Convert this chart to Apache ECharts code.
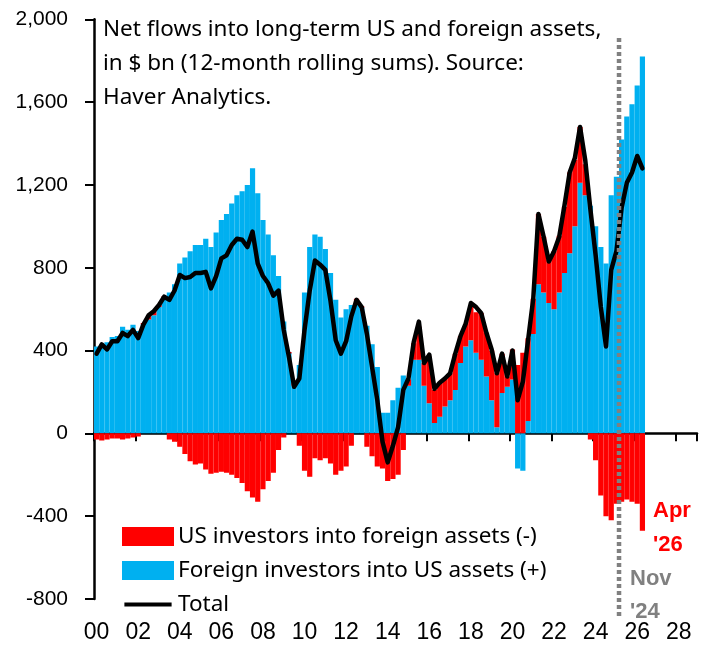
<!DOCTYPE html>
<html>
<head>
<meta charset="utf-8">
<title>Net flows into long-term US and foreign assets</title>
<script src="https://cdn.jsdelivr.net/npm/echarts@6/dist/echarts.min.js"></script>
<style>
    html, body { margin: 0; padding: 0; background: #fff; }
    #m1 { width: 712px; height: 650px; }
</style>
</head>
<body>
<div id="m1"></div>
<script>
    // quarterly 12-month rolling sums, $ bn, 2000Q1 .. 2026Q2
    var startYear = 2000, endYear = 2028;
    var tickLabels = ['00', '02', '04', '06', '08', '10', '12', '14', '16', '18', '20', '22', '24', '26', '28'];

    var foreign = [
        420, 430, 440, 465,   470, 515, 500, 525,   495, 530, 550, 570,   610, 660, 680, 720,
        820, 850, 880, 910,   910, 940, 900, 970,   1030, 1060, 1110, 1150,   1170, 1200, 1280, 1160,
        1030, 960, 860, 760,   540, 390, 230, 330,   680, 900, 960, 950,   890, 775, 645, 560,
        600, 620, 630, 610,   520, 430, 320, 100,   100, 160, 220, 280,   230, 355, 355, 230,
        145, 50, 80, 130,   160, 210, 340, 420,   450, 390, 355, 275,   160, 30, 195, 225,
        260, -170, -180, 60,   480, 720, 680, 630,   600, 680, 775, 870,   1000, 1210, 1150, 1100,
        1000, 900, 820, 1150,   1240, 1420, 1530, 1590,   1680, 1820
    ];
    var usInv = [
        -30, -35, -30, -25,   -25, -30, -25, -20,   -15, 0, 20, 20,   10, 0, -30, -40,
        -65, -100, -135, -150,   -145, -175, -195, -190,   -185, -190, -200, -215,   -240, -280, -310, -330,
        -270, -230, -190, -80,   -20, 0, 15, -60,   -180, -210, -120, -130,   -120, -145, -200, -180,
        -160, -60, 20, 0,   -65, -110, -160, -170,   -230, -220, -200, -80,   30, 80, 160, 110,
        225, 160, 160, 135,   130, 175, 130, 110,   160, 195, 225, 210,   240, 260, 190, 50,
        145, 330, 390, 400,   170, 340, 270, 210,   280, 275, 320, 390,   320, 270, 150, -30,
        -130, -300, -400, -420,   -340, -330, -320, -330,   -340, -470
    ];
    var total = [
        385, 430, 405, 445,   445, 485, 470, 500,   460, 525, 570, 590,   620, 660, 645, 690,
        765, 750, 755, 775,   775, 780, 700, 760,   845, 860, 910, 940,   935, 900, 975, 820,
        760, 725, 665, 690,   500, 370, 225, 265,   500, 690, 835, 815,   790, 640, 450, 385,
        445, 565, 645, 610,   480, 320, 160, -40,   -140, -60, 30, 210,   265, 440, 540, 340,
        380, 215, 245, 265,   290, 385, 470, 530,   630, 610, 580, 485,   405, 290, 385, 275,
        400, 160, 250, 450,   650, 1060, 950, 830,   880, 950, 1100, 1260,   1330, 1480, 1320, 1080,
        860, 610, 420, 790,   880, 1090, 1210, 1260,   1340, 1280
    ];

    var quarters = [];
    for (var y = startYear; y <= endYear; y++) {
        for (var q = 1; q <= 4; q++) quarters.push(y + 'Q' + q);
    }

    var FONT = 'Liberation Sans';
    var TEXT_FONT = 'Noto Sans';
    var RED = '#FF0000', BLUE = '#00B0F0';
    var US_NAME = 'US investors into foreign assets (-)';
    var FOR_NAME = 'Foreign investors into US assets (+)';

    var my1 = echarts.init(document.getElementById('m1'));
    var option1 = {
        backgroundColor: '#fff',
        animation: false,
        textStyle: { fontFamily: FONT },
        title: {
            text: 'Net flows into long-term US and foreign assets,\nin $ bn (12-month rolling sums). Source:\nHaver Analytics.',
            left: 98,
            top: 8,
            textStyle: { fontFamily: TEXT_FONT, fontSize: 22.5, fontWeight: 'normal', color: '#000', lineHeight: 34 }
        },
        legend: {
            orient: 'vertical',
            left: 117,
            top: 520,
            itemWidth: 50,
            itemHeight: 17,
            itemGap: 11,
            data: [
                { name: US_NAME, icon: 'rect' },
                { name: FOR_NAME, icon: 'rect' },
                { name: 'Total', icon: 'path://M0,0 M0,7 L50,7 L50,11 L0,11 Z M50,18' }
            ],
            textStyle: { fontFamily: TEXT_FONT, fontSize: 22.5, color: '#000', lineHeight: 22 }
        },
        grid: { left: 94, right: 15, top: 19.3, bottom: 51 },
        xAxis: [{
            type: 'category',
            data: quarters,
            boundaryGap: true,
            axisLine: { onZero: true, lineStyle: { color: '#000', width: 2.5 } },
            axisTick: {
                show: true,
                length: 8,
                interval: function (i) { return i % 8 === 0; },
                lineStyle: { color: '#000', width: 2 }
            },
            axisLabel: { show: false },
            splitLine: { show: false }
        }, {
            type: 'category',
            data: quarters,
            position: 'bottom',
            axisLine: { show: false, onZero: false },
            axisTick: { show: false },
            axisLabel: {
                interval: function (i) { return i % 8 === 0; },
                formatter: function (v, i) { return tickLabels[i / 8]; },
                fontFamily: FONT,
                fontSize: 23,
                color: '#000',
                margin: 22
            },
            splitLine: { show: false }
        }],
        yAxis: {
            type: 'value',
            min: -800,
            max: 2000,
            interval: 400,
            splitLine: { show: false },
            axisLine: { show: true, lineStyle: { color: '#000', width: 2.5 } },
            axisTick: { show: true, length: 9, lineStyle: { color: '#000', width: 2 } },
            axisLabel: {
                fontFamily: FONT,
                fontSize: 21,
                color: '#000',
                margin: 26,
                formatter: function (v) { return v.toLocaleString('en-US'); }
            }
        },
        series: [
            {
                name: FOR_NAME,
                type: 'bar',
                stack: 'flows',
                data: foreign,
                barWidth: '100%',
                barCategoryGap: '0%',
                itemStyle: { color: BLUE, borderColor: BLUE, borderWidth: 1.5 }
            },
            {
                name: US_NAME,
                type: 'bar',
                stack: 'flows',
                data: usInv,
                barWidth: '100%',
                barCategoryGap: '0%',
                itemStyle: { color: RED, borderColor: RED, borderWidth: 1.5 }
            },
            {
                name: 'Total',
                type: 'line',
                data: total,
                symbol: 'none',
                z: 5,
                itemStyle: { color: '#000' },
                lineStyle: { color: '#000', width: 4.5, join: 'round', cap: 'round' }
            }
        ],
        graphic: [
            {
                type: 'text', left: 653, top: 494, silent: true,
                style: { text: "Apr\n'26", fill: RED, font: 'bold 22px "' + FONT + '"', lineHeight: 34 }
            },
            {
                type: 'text', left: 630, top: 562, silent: true,
                style: { text: "Nov\n'24", fill: '#808080', font: 'bold 22px "' + FONT + '"', lineHeight: 33 }
            }
        ]
    };
    my1.setOption(option1);

    // dotted marker line, positioned through the axis scales
    var xa = my1.convertToPixel({ xAxisIndex: 0 }, '2025Q1');
    var xb = my1.convertToPixel({ xAxisIndex: 0 }, '2025Q2');
    var xm = (xa + xb) / 2;
    var yTop = my1.convertToPixel({ yAxisIndex: 0 }, 1910);
    var yBot = my1.convertToPixel({ yAxisIndex: 0 }, -890);
    option1.graphic.push({
        type: 'line', silent: true, z: 10,
        shape: { x1: xm, y1: yTop, x2: xm, y2: yBot },
        style: { stroke: '#808080', lineWidth: 4.5, lineDash: [4, 3] }
    });
    my1.setOption({ graphic: option1.graphic });
</script>
</body>
</html>
